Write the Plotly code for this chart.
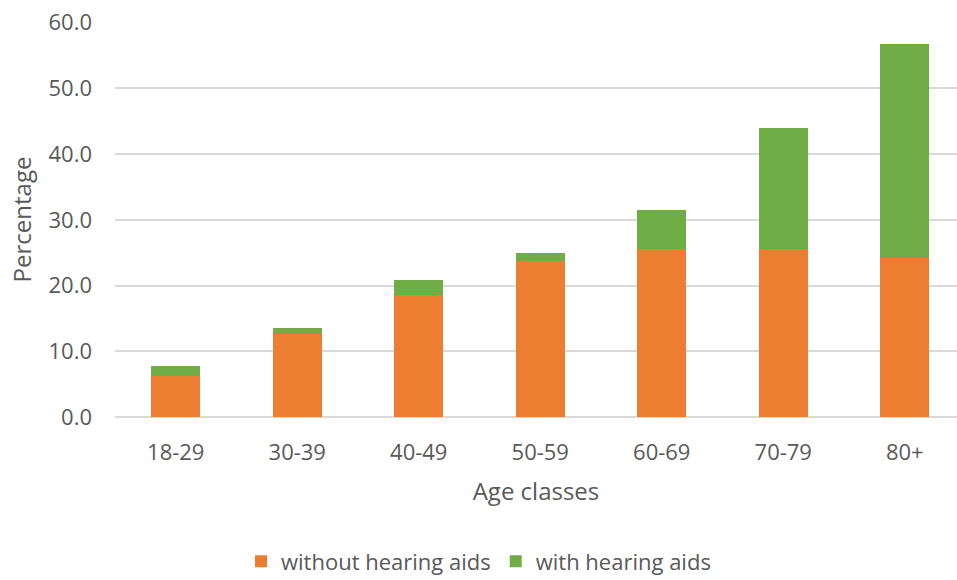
import plotly.graph_objects as go

age_classes = ["18-29", "30-39", "40-49", "50-59", "60-69", "70-79", "80+"]
without_aids = [6.2, 12.7, 18.5, 23.8, 25.6, 25.6, 24.2]
with_aids = [1.5, 0.8, 2.3, 1.2, 5.9, 18.4, 32.6]
y_ticks = [0, 10, 20, 30, 40, 50, 60]

text_color = "#595959"
font_family = "'Open Sans', sans-serif"

fig = go.Figure()
fig.add_trace(go.Bar(
    x=age_classes, y=without_aids, name="without hearing aids",
    marker=dict(color="#ED7D31", line=dict(width=0)), width=0.4,
))
fig.add_trace(go.Bar(
    x=age_classes, y=with_aids, name="with hearing aids",
    marker=dict(color="#70AD47", line=dict(width=0)), width=0.4,
))

fig.update_layout(
    barmode="stack",
    width=957, height=580,
    margin=dict(l=115, r=0, t=22, b=163, autoexpand=False),
    plot_bgcolor="white", paper_bgcolor="white",
    font=dict(family=font_family, color=text_color, size=22),
    showlegend=True,
    legend=dict(
        orientation="h", x=0.5, xref="container", xanchor="center",
        y=0.032, yref="container", yanchor="middle",
        font=dict(size=22, color=text_color), traceorder="normal",
        itemwidth=30, bgcolor="rgba(0,0,0,0)",
    ),
    xaxis=dict(
        type="category", range=[-0.5, 6.43], automargin=False,
        showgrid=False, showline=False, zeroline=False, ticks="",
        ticklabelstandoff=20,
        tickfont=dict(size=22, color=text_color),
        title=dict(text="Age classes", font=dict(size=24, color=text_color), standoff=18),
    ),
    yaxis=dict(
        range=[0, 60.1], tickvals=y_ticks, automargin=False,
        ticktext=[f"{v:.1f}" for v in y_ticks],
        showgrid=True, gridcolor="#D9D9D9", gridwidth=1.5,
        zeroline=True, zerolinecolor="#D9D9D9", zerolinewidth=1.5,
        showline=False, ticks="",
        ticklabelstandoff=22,
        tickfont=dict(size=22, color=text_color),
        title=dict(text="Percentage", font=dict(size=24, color=text_color), standoff=10),
    ),
)

fig.write_html("out.html")
